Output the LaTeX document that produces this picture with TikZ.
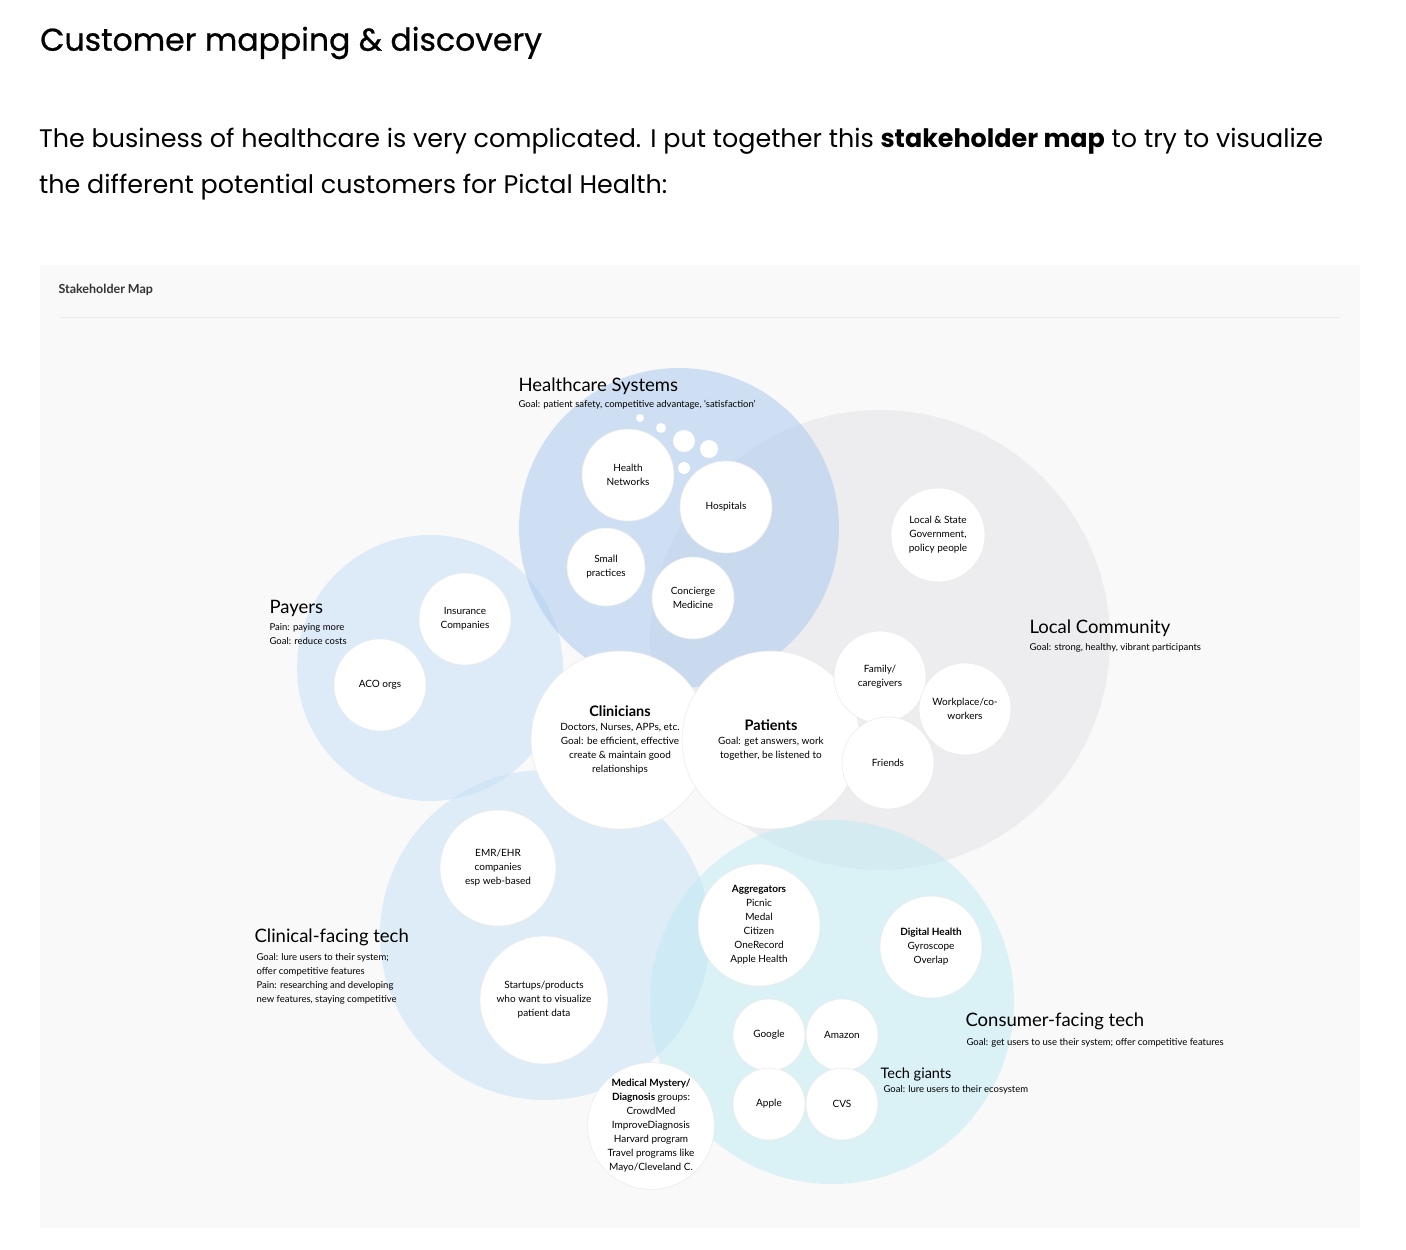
\documentclass[tikz,border=0pt]{standalone}
\usepackage{fontspec}
\setmainfont{Poppins}
\newfontfamily\lab{Lato}
\newfontfamily\ttlfont[FakeBold=0.7]{Poppins}
\definecolor{hsc}{HTML}{A9C9EF}
\definecolor{pac}{HTML}{C4DDF8}
\definecolor{ctc}{HTML}{C6E1F7}
\definecolor{cfc}{HTML}{BFEAF5}
\definecolor{lcc}{HTML}{E2E2E6}
\begin{document}
\begin{tikzpicture}[x=1pt,y=-1pt,
  wc/.style={circle,fill=white,draw=black!8,line width=0.6pt,minimum size=#1,inner sep=0pt,align=center,font=\lab\fontsize{10}{14}\selectfont},
  big/.style={fill=#1,fill opacity=0.52,draw=none},
  hd/.style={anchor=west,font=\lab\fontsize{18.5}{20}\selectfont},
  gl/.style={anchor=north west,align=left,font=\lab\fontsize{9.5}{14}\selectfont}]
\useasboundingbox (0,0) rectangle (1406,1250);
\fill[white] (0,0) rectangle (1406,1250);
\node[anchor=west,font=\ttlfont\fontsize{31.5}{40}\selectfont,inner sep=0pt] (title) at (40,43) {Customer mapping \& discovery};
\node[anchor=north west,align=left,font=\fontsize{25.4}{46}\selectfont,inner sep=0pt] (para) at (39,128) {The business of healthcare is very complicated. I put together this \textbf{stakeholder map} to try to visualize\\the different potential customers for Pictal Health:};
\fill[black!2.5] (40,265) rectangle (1360,1228);
\node[anchor=west,font=\lab\bfseries\fontsize{12.5}{14}\selectfont,text=black!80] (sm) at (55,290) {Stakeholder Map};
\draw[black!8] (60,317) -- (1340,317);
% big circles
\fill[big=lcc] (880,640) circle (230);
\fill[big=pac] (430,668) circle (133);
\fill[big=ctc] (545,935) circle (165);
\fill[big=cfc] (832,1002) circle (182);
\fill[big=hsc] (679,528) circle (160);
% headings
\node[hd] (hs) at (515,386) {Healthcare Systems};
\node[gl] (hsg) at (515,397) {Goal: patient safety, competitive advantage, ‘satisfaction’};
\node[hd] (lc) at (1026,628) {Local Community};
\node[gl] (lcg) at (1026,640) {Goal: strong, healthy, vibrant participants};
\node[hd] (pa) at (266,608) {Payers};
\node[gl] (pag) at (266,620) {Pain: paying more\\Goal: reduce costs};
\node[hd] (ct) at (251,937) {Clinical-facing tech};
\node[gl] (ctg) at (253,950) {Goal: lure users to their system;\\offer competitive features\\Pain: researching and developing\\new features, staying competitive};
\node[hd] (cf) at (962,1021) {Consumer-facing tech};
\node[gl] (cfg) at (963,1035) {Goal: get users to use their system; offer competitive features};
\node[anchor=west,font=\lab\fontsize{14.5}{16}\selectfont] (tg) at (877,1074) {Tech giants};
\node[gl] (tgg) at (880,1082) {Goal: lure users to their ecosystem};
% bubbles
\foreach \x/\y/\r in {640/418/4,661/428/5,684/441/11,709/449/9,684/468/6} \fill[white] (\x,\y) circle (\r);
% white nodes
\node[wc=92] (hn) at (628,475) {Health\\Networks};
\node[wc=92] (ho) at (726,507) {Hospitals};
\node[wc=78] (sp) at (606,567) {Small\\practices};
\node[wc=82] (cm) at (693,598) {Concierge\\Medicine};
\node[wc=94] (ls) at (938,535) {Local \& State\\Government,\\policy people};
\node[wc=92] (ic) at (465,619) {Insurance\\Companies};
\node[wc=92] (aco) at (380,685) {ACO orgs};
\node[wc=178] (cl) at (620,740) {{\bfseries\fontsize{14.5}{18}\selectfont Clinicians}\\Doctors, Nurses, APPs, etc.\\Goal: be efficient, effective\\create \& maintain good\\relationships};
\node[wc=178] (pt) at (771,740) {{\bfseries\fontsize{14.5}{18}\selectfont Patients}\\Goal: get answers, work\\together, be listened to};
\node[wc=92] (fam) at (880,677) {Family/\\caregivers};
\node[wc=92] (wp) at (965,709) {Workplace/co-\\workers};
\node[wc=92] (fr) at (888,763) {Friends};
\node[wc=116] (emr) at (498,868) {EMR/EHR\\companies\\esp web-based};
\node[wc=128] (st) at (544,1000) {Startups/products\\who want to visualize\\patient data};
\node[wc=122] (ag) at (759,925) {\textbf{Aggregators}\\Picnic\\Medal\\Citizen\\OneRecord\\Apple Health};
\node[wc=102] (dh) at (931,947) {\textbf{Digital Health}\\Gyroscope\\Overlap};
\node[wc=72] (go) at (769,1035) {Google};
\node[wc=72] (am) at (842,1035) {Amazon};
\node[wc=72] (ap) at (769,1104) {Apple};
\node[wc=72] (cvs) at (842,1104) {CVS};
\node[wc=118] (mm) at (651,1126) {\textbf{Medical Mystery/}\\\textbf{Diagnosis} groups:\\CrowdMed\\ImproveDiagnosis\\Harvard program\\Travel programs like\\Mayo/Cleveland C.};
\end{tikzpicture}
\end{document}
